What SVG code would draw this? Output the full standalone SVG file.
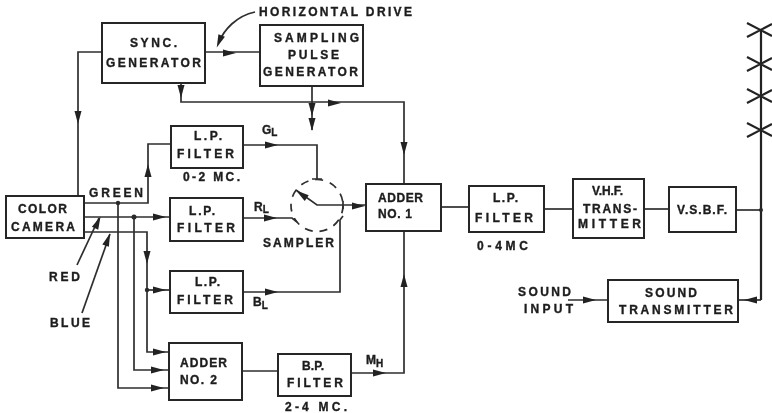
<svg xmlns="http://www.w3.org/2000/svg" width="772" height="413" viewBox="0 0 772 413">
<style>
text{font-family:"Liberation Sans",Arial,sans-serif;font-weight:bold;font-size:12px;fill:#1c1c1c;stroke:#1c1c1c;stroke-width:.35}
.sub{font-size:10px}
rect{fill:#fff;stroke:#262626;stroke-width:2}
.c path,.c circle.r{fill:none;stroke:#2e2e2e;stroke-width:1.7}
.c .ant{stroke-width:2.2;stroke:#222}
.d{fill:#2a2a2a}
</style>
<defs>
<path id="a" d="M-7,-3.5L6,0L-7,3.5z" fill="#222"/>
<filter id="b" filterUnits="userSpaceOnUse" x="0" y="0" width="772" height="413"><feGaussianBlur stdDeviation="0.4"/></filter>
</defs>
<rect x="0" y="0" width="772" height="413" style="fill:#fff;stroke:none"/>
<g filter="url(#b)">
<g id="connectors" class="c">
<path d="M102,52H78V196"/>
<path d="M204,52H260"/>
<path d="M181,83V102H404V185"/>
<path d="M312,86V130"/>
<path d="M243,145H317V179M312,179H322"/>
<path d="M171,144H148V203H84"/>
<path d="M84,217H170"/>
<path d="M84,232H147V352H169"/>
<path d="M147,290H170"/>
<path d="M134,217V370H169"/>
<path d="M118,203V388H169"/>
<path d="M242,371H278"/>
<path d="M351,373H404V231"/>
<path d="M243,218H292L297,222"/>
<path d="M243,292H340V220L343,216"/>
<path d="M296,190L317,205H367M343,201V209"/>
<circle class="r" cx="317" cy="205.5" r="26" stroke-dasharray="8 7"/>
<path d="M441,207H469"/>
<path d="M544,209H573"/>
<path d="M644,209H669"/>
<path d="M736,210H761"/>
<path class="ant" d="M761,30V300"/>
<path d="M761,300H738"/>
<path d="M568,300H608"/>
<path class="ant" d="M747,23L772,36M747,37L772,24M747,57L772,70M747,71L772,58M747,89L772,102M747,103L772,90M747,123L772,136M747,137L772,124"/>
<path d="M255,12C236,16 224,30 219,42"/>
<path d="M77,265L99,218"/>
<path d="M82,313L110,234"/>
<use href="#a" transform="translate(78,118) rotate(90)"/>
<use href="#a" transform="translate(230,53)"/>
<use href="#a" transform="translate(181,92) rotate(90)"/>
<use href="#a" transform="translate(335,103)"/>
<use href="#a" transform="translate(404,149) rotate(90)"/>
<use href="#a" transform="translate(312,110) rotate(90)"/>
<use href="#a" transform="translate(312,125) rotate(90)"/>
<use href="#a" transform="translate(272,145)"/>
<use href="#a" transform="translate(148,170) rotate(-90)"/>
<use href="#a" transform="translate(160,217)"/>
<use href="#a" transform="translate(147,258) rotate(90)"/>
<use href="#a" transform="translate(160,290)"/>
<use href="#a" transform="translate(160,352)"/>
<use href="#a" transform="translate(158,370)"/>
<use href="#a" transform="translate(158,388)"/>
<use href="#a" transform="translate(380,373)"/>
<use href="#a" transform="translate(404,280) rotate(-90)"/>
<use href="#a" transform="translate(271,218)"/>
<use href="#a" transform="translate(272,292)"/>
<use href="#a" transform="translate(301,194) rotate(-145)"/>
<use href="#a" transform="translate(359,206)"/>
<use href="#a" transform="translate(590,300)"/>
<use href="#a" transform="translate(750,300) rotate(180)"/>
<use href="#a" transform="translate(219,42) rotate(112)"/>
<use href="#a" transform="translate(98,222) rotate(-65)"/>
<use href="#a" transform="translate(108,239) rotate(-70)"/>
<circle class="d" cx="118" cy="203" r="2.2"/>
<circle class="d" cx="134" cy="217" r="2.5"/>
<circle class="d" cx="147" cy="290" r="2.2"/>
<circle class="d" cx="761" cy="210" r="2"/>
</g>
<g id="sync-generator"><rect x="102" y="23" width="103" height="60"/><text x="130" y="47" textLength="47">SYNC.</text><text x="106" y="67" textLength="95">GENERATOR</text></g>
<g id="sampling-pulse-generator"><rect x="260" y="25" width="103" height="61"/><text x="274" y="42" textLength="85">SAMPLING</text><text x="288" y="59" textLength="51">PULSE</text><text x="263" y="76" textLength="95">GENERATOR</text></g>
<g id="color-camera"><rect x="6" y="196" width="78" height="42"/><text x="18" y="213" textLength="49">COLOR</text><text x="11" y="231" textLength="64">CAMERA</text></g>
<g id="lp-filter-green"><rect x="171" y="126" width="72" height="42"/><text x="194" y="140" textLength="28">L.P.</text><text x="177" y="158" textLength="57">FILTER</text></g>
<g id="lp-filter-red"><rect x="170" y="198" width="73" height="43"/><text x="189" y="215" textLength="26">L.P.</text><text x="177" y="232" textLength="58">FILTER</text></g>
<g id="lp-filter-blue"><rect x="170" y="271" width="73" height="42"/><text x="195" y="286" textLength="25">L.P.</text><text x="177" y="304" textLength="56">FILTER</text></g>
<g id="adder-2"><rect x="169" y="343" width="73" height="57"/><text x="180" y="367" textLength="47">ADDER</text><text x="180" y="384" textLength="37">NO. 2</text></g>
<g id="bp-filter"><rect x="278" y="354" width="73" height="42"/><text x="302" y="370" textLength="22">B.P.</text><text x="287" y="387" textLength="56">FILTER</text></g>
<g id="adder-1"><rect x="366" y="184" width="75" height="47"/><text x="378" y="202" textLength="45">ADDER</text><text x="378" y="218" textLength="34">NO. 1</text></g>
<g id="lp-filter-out"><rect x="469" y="186" width="75" height="46"/><text x="493" y="202" textLength="25">L.P.</text><text x="475" y="222" textLength="58">FILTER</text></g>
<g id="vhf-transmitter"><rect x="573" y="179" width="71" height="59"/><text x="592" y="195" textLength="31">V.H.F.</text><text x="583" y="213" textLength="54">TRANS-</text><text x="578" y="228" textLength="63">MITTER</text></g>
<g id="vsbf"><rect x="669" y="187" width="67" height="45"/><text x="677" y="214" textLength="50">V.S.B.F.</text></g>
<g id="sound-transmitter"><rect x="608" y="280" width="130" height="42"/><text x="645" y="297" textLength="52">SOUND</text><text x="619" y="314" textLength="114">TRANSMITTER</text></g>
<g id="labels">
<text x="259" y="16" textLength="153">HORIZONTAL DRIVE</text>
<text x="183" y="181" textLength="57">0-2 MC.</text>
<text x="262" y="134">G<tspan class="sub" dy="2">L</tspan></text>
<text x="254" y="211">R<tspan class="sub" dy="2">L</tspan></text>
<text x="253" y="306">B<tspan class="sub" dy="3">L</tspan></text>
<text x="366" y="364">M<tspan class="sub" dy="3">H</tspan></text>
<text x="89" y="197" textLength="54">GREEN</text>
<text x="49" y="281" textLength="31">RED</text>
<text x="50" y="327" textLength="40">BLUE</text>
<text x="263" y="247" textLength="71">SAMPLER</text>
<text x="285" y="411" textLength="62">2-4 MC.</text>
<text x="477" y="250" textLength="51">0-4MC</text>
<text x="518" y="296" textLength="53">SOUND</text>
<text x="524" y="313" textLength="49">INPUT</text>
</g>
</g>
</svg>
